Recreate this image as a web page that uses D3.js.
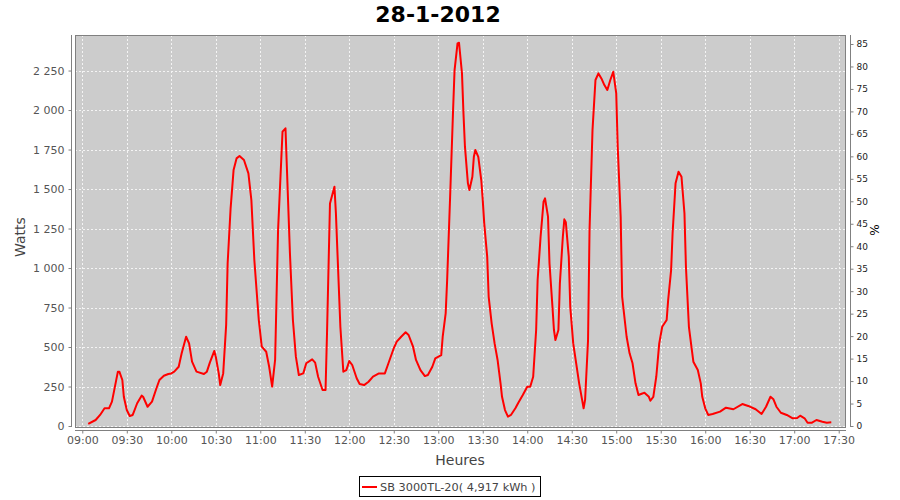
<!DOCTYPE html>
<html><head><meta charset="utf-8">
<script src="https://cdn.jsdelivr.net/npm/d3@7"></script>
<style>body{margin:0;background:#fff}svg{display:block}text{font-family:"DejaVu Sans",sans-serif}</style>
</head><body><svg id="c" width="900" height="500"></svg>
<script>
const title = "28-1-2012";
const seriesName = "SB 3000TL-20( 4,917 kWh )";
const xLabel = "Heures";
const yLabel = "Watts";
const y2Label = "%";
const times = ["09:04","09:09","09:12","09:15","09:18","09:20","09:22","09:24","09:25","09:27","09:28","09:30","09:32","09:34","09:37","09:40","09:41","09:44","09:47","09:50","09:52","09:55","09:58","10:00","10:02","10:05","10:07","10:10","10:12","10:14","10:17","10:22","10:24","10:26","10:29","10:30","10:32","10:33","10:35","10:37","10:38","10:40","10:42","10:44","10:46","10:49","10:52","10:54","10:56","10:59","11:01","11:04","11:06","11:08","11:10","11:12","11:15","11:17","11:18","11:20","11:22","11:24","11:26","11:29","11:31","11:35","11:37","11:39","11:42","11:44","11:45","11:47","11:50","11:51","11:54","11:56","11:58","12:00","12:02","12:05","12:07","12:10","12:13","12:16","12:20","12:24","12:26","12:30","12:32","12:35","12:38","12:40","12:43","12:45","12:48","12:51","12:53","12:56","12:58","13:02","13:03","13:05","13:06","13:08","13:10","13:11","13:13","13:14","13:16","13:17","13:18","13:20","13:21","13:23","13:24","13:25","13:27","13:29","13:30","13:31","13:33","13:34","13:36","13:38","13:40","13:42","13:43","13:45","13:47","13:49","13:52","13:54","13:57","14:00","14:02","14:04","14:06","14:07","14:09","14:11","14:12","14:14","14:15","14:17","14:18","14:19","14:21","14:22","14:24","14:25","14:26","14:28","14:29","14:31","14:33","14:35","14:37","14:38","14:39","14:41","14:42","14:44","14:46","14:48","14:50","14:52","14:54","14:56","14:58","15:00","15:01","15:03","15:04","15:07","15:09","15:11","15:13","15:15","15:18","15:19","15:22","15:23","15:25","15:27","15:29","15:31","15:34","15:35","15:37","15:38","15:40","15:42","15:44","15:46","15:47","15:49","15:51","15:52","15:55","15:57","15:58","16:00","16:02","16:05","16:10","16:14","16:19","16:25","16:29","16:34","16:38","16:41","16:44","16:46","16:48","16:51","16:55","16:59","17:02","17:04","17:07","17:09","17:12","17:15","17:19","17:22","17:25"];
const watts = [13,38,70,112,112,154,249,344,344,291,185,101,63,70,144,192,185,122,154,239,291,318,329,333,344,375,460,565,523,407,344,329,344,401,475,439,333,259,333,640,1030,1378,1620,1694,1709,1684,1599,1430,1051,671,502,470,375,249,418,1240,1863,1884,1620,1093,671,439,323,333,397,422,401,312,228,228,587,1409,1515,1346,628,344,354,411,386,302,266,259,280,312,333,333,386,492,534,565,593,576,502,418,354,316,323,375,428,449,565,713,924,1451,2000,2253,2422,2426,2232,1979,1768,1536,1494,1578,1704,1747,1704,1557,1430,1283,1072,818,650,523,418,270,185,101,59,70,112,147,196,249,249,312,608,924,1198,1420,1441,1325,1030,755,608,544,608,903,1198,1308,1290,1072,755,523,397,270,165,112,165,544,1240,1873,2190,2232,2200,2158,2127,2190,2242,2106,1768,1325,818,565,460,397,270,196,207,211,185,160,185,312,523,628,671,797,987,1220,1536,1610,1578,1346,1008,628,481,407,354,270,185,112,70,76,91,116,106,139,127,106,76,122,185,169,122,84,70,49,51,65,49,21,21,38,27,21,23];
const xTicks = ["09:00","09:30","10:00","10:30","11:00","11:30","12:00","12:30","13:00","13:30","14:00","14:30","15:00","15:30","16:00","16:30","17:00","17:30"];
const yTicks = [0,250,500,750,1000,1250,1500,1750,2000,2250];
const y2Ticks = [0,5,10,15,20,25,30,35,40,45,50,55,60,65,70,75,80,85];

const parse = s => { const [h,m] = s.split(":").map(Number); return new Date(2012,0,28,h,m,0); };
const data = times.map((t,i)=>({t:parse(t), v:watts[i]}));

const L=75, R=846, T=35, B=427;
const svg = d3.select("#c");
svg.append("rect").attr("width",900).attr("height",500).attr("fill","#fff");

const x = d3.scaleTime().domain([new Date(2012,0,28,8,55,5), new Date(2012,0,28,17,34,55)]).range([L,R]);
const y = d3.scaleLinear().domain([-6.3,2475]).range([B,T]);
const y2 = d3.scaleLinear().domain([-0.22,87.0]).range([B,T]);

svg.append("rect").attr("x",L).attr("y",T).attr("width",R-L).attr("height",B-T).attr("fill","#cccccc");

const g = svg.append("g");
g.selectAll("line.h").data(yTicks).join("line")
  .attr("x1",L).attr("x2",R).attr("y1",d=>Math.round(y(d))+0.5).attr("y2",d=>Math.round(y(d))+0.5)
  .attr("stroke","#f4f4f4").attr("stroke-width",1).attr("stroke-dasharray","2,2");
g.selectAll("line.v").data(xTicks).join("line")
  .attr("y1",T).attr("y2",B).attr("x1",d=>Math.round(x(parse(d)))+0.5).attr("x2",d=>Math.round(x(parse(d)))+0.5)
  .attr("stroke","#f4f4f4").attr("stroke-width",1).attr("stroke-dasharray","2,2");

const line = d3.line().x(d=>x(d.t)).y(d=>y(d.v));
svg.append("path").datum(data).attr("d",line).attr("fill","none").attr("stroke","#ff0000").attr("stroke-width",2).attr("stroke-linejoin","round");

svg.append("rect").attr("x",L+0.5).attr("y",T+0.5).attr("width",R-L-1).attr("height",B-T).attr("fill","none").attr("stroke","#808080");

const xa = svg.append("g").attr("transform","translate(0,430.5)")
  .call(d3.axisBottom(x).tickValues(xTicks.map(parse)).tickFormat(d3.timeFormat("%H:%M")).tickSize(3).tickPadding(3));
xa.select(".domain").attr("stroke","#808080").attr("d",`M${L},0H${R}`);
xa.selectAll(".tick line").attr("stroke","#808080");
xa.selectAll("text").attr("fill","#555").style("font-size","11px").style("font-family","DejaVu Sans");

const fmt = d => d3.format(",")(d).replace(/,/g," ");
const ya = svg.append("g").attr("transform","translate(71.5,0)")
  .call(d3.axisLeft(y).tickValues(yTicks).tickFormat(fmt).tickSize(3).tickPadding(4));
ya.select(".domain").attr("stroke","#808080").attr("d",`M0,${T}V${B}`);
ya.selectAll(".tick line").attr("stroke","#808080");
ya.selectAll("text").attr("fill","#555").style("font-size","11px").style("font-family","DejaVu Sans");

const y2a = svg.append("g").attr("transform","translate(850.5,0)")
  .call(d3.axisRight(y2).tickValues(y2Ticks).tickSize(3).tickPadding(3));
y2a.select(".domain").attr("stroke","#808080").attr("d",`M0,${T}V${B}`);
y2a.selectAll(".tick line").attr("stroke","#808080");
y2a.selectAll("text").attr("fill","#222").style("font-size","9px").style("font-family","DejaVu Sans");

svg.append("text").attr("x",438).attr("y",22).attr("text-anchor","middle")
  .style("font-size","22px").style("font-weight","bold").attr("fill","#000").text(title);
svg.append("text").attr("x",460).attr("y",465).attr("text-anchor","middle")
  .style("font-size","14px").attr("fill","#444").text(xLabel);
svg.append("text").attr("transform","translate(25,237) rotate(-90)").attr("text-anchor","middle")
  .style("font-size","14px").attr("fill","#444").text(yLabel);
svg.append("text").attr("transform","translate(879,230) rotate(-90)").attr("text-anchor","middle")
  .style("font-size","12px").attr("fill","#000").text(y2Label);

const lg = svg.append("g");
lg.append("rect").attr("x",359.5).attr("y",476.5).attr("width",181).attr("height",20).attr("fill","#fff").attr("stroke","#000");
lg.append("line").attr("x1",362).attr("x2",377).attr("y1",487).attr("y2",487).attr("stroke","#ff0000").attr("stroke-width",2);
lg.append("text").attr("x",380).attr("y",491).style("font-size","11.3px").attr("fill","#444").text(seriesName);
</script></body></html>
